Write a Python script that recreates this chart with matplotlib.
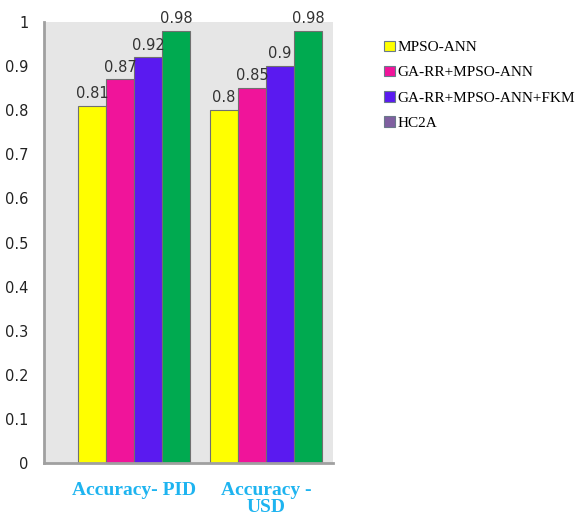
import matplotlib.pyplot as plt
import numpy as np
from matplotlib.patches import Patch

categories = ["Accuracy- PID", "Accuracy -\nUSD"]
methods = ["MPSO-ANN", "GA-RR+MPSO-ANN", "GA-RR+MPSO-ANN+FKM", "HC2A"]
values = [
    [0.81, 0.80],
    [0.87, 0.85],
    [0.92, 0.90],
    [0.98, 0.98],
]
bar_colors = ["#FFFF00", "#F0149A", "#5A1AF0", "#00AA50"]
legend_colors = ["#FFFF00", "#F0149A", "#5A1AF0", "#7F5FA0"]

fig = plt.figure(figsize=(5.77, 5.15), dpi=100)
ax = fig.add_axes([0.0763, 0.101, 0.5008, 0.856])
ax.set_facecolor("#E6E6E6")

x = np.arange(len(categories))
w = 0.212
for i, m in enumerate(methods):
    pos = x + (i - 1.5) * w
    ax.bar(pos, values[i], width=w, color=bar_colors[i], edgecolor="#707070", linewidth=0.8)
    for p, v in zip(pos, values[i]):
        ax.text(p, v + 0.011, f"{v:g}", ha="center", va="bottom", fontsize=10.5, color="#333333")

ax.set_xlim(-0.682, 1.508)
ax.set_ylim(0, 1)
ax.set_yticks(np.arange(0, 1.01, 0.1))
ax.set_yticklabels(["0", "0.1", "0.2", "0.3", "0.4", "0.5", "0.6", "0.7", "0.8", "0.9", "1"])
ax.tick_params(axis="y", length=0, pad=11, labelsize=10.5, labelcolor="#222222")
ax.set_xticks(x)
ax.set_xticklabels(categories, fontfamily="Liberation Serif", fontweight="bold",
                   fontsize=14, color="#1EB4F0", linespacing=1.0)
ax.tick_params(axis="x", length=0, pad=14)
for s in ["top", "right"]:
    ax.spines[s].set_visible(False)
ax.spines["left"].set_color("#A0A0A0")
ax.spines["left"].set_linewidth(2)
ax.spines["bottom"].set_color("#A0A0A0")
ax.spines["bottom"].set_linewidth(2)

handles = [Patch(facecolor=c, edgecolor="#6A7A8A", linewidth=0.8) for c in legend_colors]
fig.legend(handles, methods, loc="upper left", bbox_to_anchor=(0.642, 0.948),
           frameon=False, prop={"family": "Liberation Serif", "size": 11},
           handlelength=0.7, handleheight=0.7, handletextpad=0.15, labelspacing=0.75)

fig.savefig("out.png", dpi=100)
